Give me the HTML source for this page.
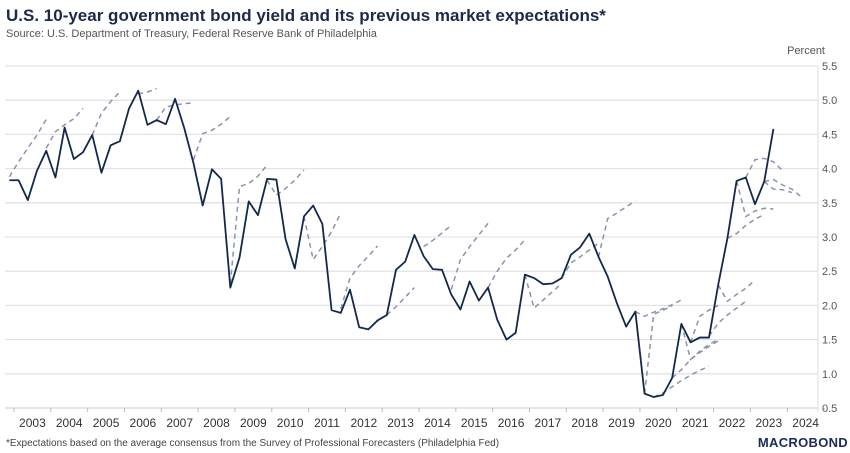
<!DOCTYPE html>
<html><head><meta charset="utf-8"><style>
body{margin:0;background:#fff;width:850px;height:453px;overflow:hidden;font-family:"Liberation Sans",sans-serif}
svg{display:block}
</style></head><body>
<svg id="chart" width="850" height="453">
<text x="6" y="21" font-size="17" font-weight="bold" fill="#1b2a4a">U.S. 10-year government bond yield and its previous market expectations*</text>
<text x="6" y="37" font-size="11" fill="#555">Source: U.S. Department of Treasury, Federal Reserve Bank of Philadelphia</text>
<text x="825" y="54" font-size="11" fill="#555" text-anchor="end">Percent</text>
<g id="grid"></g><g id="dashes"></g><g id="series"></g><g id="axes"></g>
<text x="6" y="446" font-size="10" fill="#444">*Expectations based on the average consensus from the Survey of Professional Forecasters (Philadelphia Fed)</text>
<text x="848" y="447" font-size="13" font-weight="bold" fill="#1b2a5a" text-anchor="end" letter-spacing="0.3">MACROBOND</text>
</svg>
<script>
const yTicks=[0.5,1.0,1.5,2.0,2.5,3.0,3.5,4.0,4.5,5.0,5.5];
const years=[2003,2004,2005,2006,2007,2008,2009,2010,2011,2012,2013,2014,2015,2016,2017,2018,2019,2020,2021,2022,2023,2024];
const startQuarter=2002.875;
const yieldValues=[3.83,3.83,3.54,3.97,4.26,3.87,4.60,4.14,4.24,4.49,3.94,4.34,4.40,4.88,5.14,4.64,4.71,4.65,5.02,4.59,4.08,3.46,3.99,3.85,2.26,2.70,3.52,3.32,3.85,3.84,2.97,2.54,3.30,3.46,3.19,1.93,1.89,2.23,1.68,1.65,1.78,1.86,2.52,2.64,3.03,2.72,2.53,2.52,2.16,1.94,2.35,2.07,2.26,1.79,1.50,1.60,2.45,2.40,2.31,2.32,2.40,2.74,2.85,3.05,2.71,2.42,2.03,1.69,1.91,0.71,0.66,0.69,0.94,1.73,1.46,1.53,1.53,2.30,2.98,3.82,3.87,3.48,3.81,4.58];
const forecastStarts=[0,4,9,14,16,20,24,28,32,36,41,45,48,52,56,60,64,68,69,70,72,73,74,76,77,78,79,80,82,82];
const forecastValues=[
[3.88,4.10,4.30,4.49,4.72],[4.30,4.54,4.64,4.73,4.88],[4.49,4.81,4.98,5.12],[5.09,5.12,5.17],
[4.71,4.90,4.93,4.95,4.96],[4.13,4.51,4.56,4.65,4.76],[2.32,3.74,3.78,3.89,4.05],[3.83,3.61,3.71,3.83,3.98],
[3.30,2.67,2.86,3.08,3.35],[1.95,2.40,2.58,2.72,2.87],[1.86,1.98,2.12,2.26],[2.86,2.95,3.06,3.17],
[2.23,2.67,2.86,3.03,3.20],[2.26,2.50,2.69,2.81,2.96],[2.45,1.96,2.08,2.20,2.32],[2.40,2.62,2.71,2.81,2.91],
[2.71,3.27,3.35,3.44,3.53],[1.91,1.84,1.90,1.95,2.01,2.08],[0.71,1.87,1.93,1.99],[0.66,0.72,0.81,0.90,0.98,1.05,1.11],
[0.94,1.06,1.21,1.31,1.40,1.48],[1.73,1.21,1.33,1.43,1.50],[1.46,1.84,1.93,2.00],[1.55,1.74,1.86,1.96,2.06],
[2.30,2.06,2.16,2.25,2.37],[2.98,3.05,3.17,3.26,3.33],[3.82,3.30,3.38,3.42,3.41],[3.87,4.13,4.15,4.10,3.97],
[3.81,3.84,3.76,3.70,3.59],[3.81,3.70,3.69,3.65]];
const NS='http://www.w3.org/2000/svg';
const X0=14,YW=36.82,Y0=408,YS=68.4;
function xT(t){return X0+(t-2003)*YW;}
function xI(i){return xT(startQuarter+i*0.25);}
function yV(v){return Y0-(v-0.5)*YS;}
function mk(tag,attrs,parent){const e=document.createElementNS(NS,tag);for(const k in attrs)e.setAttribute(k,attrs[k]);parent.appendChild(e);return e;}
const grid=document.getElementById('grid'),axes=document.getElementById('axes'),dashes=document.getElementById('dashes'),series=document.getElementById('series');
yTicks.forEach(v=>{
 if(v>0.5){const l=mk('line',{x1:5,x2:818,y1:yV(v),y2:yV(v),stroke:'#e3e3e3','stroke-width':1.3},grid);
 
 }
 const t=mk('text',{x:822,y:yV(v)+4,'font-size':11,fill:'#555'},axes);
 t.textContent=v.toFixed(1);
 
 
});
const ax=mk('line',{x1:5,x2:818,y1:Y0,y2:Y0,stroke:'#ccc','stroke-width':1},axes);


const ra=mk('line',{x1:818,x2:818,y1:66,y2:Y0+4,stroke:'#ddd','stroke-width':1},axes);


years.concat([2025]).forEach(yr=>{
 const tk=mk('line',{x1:xT(yr),x2:xT(yr),y1:Y0,y2:Y0+4,stroke:'#bbb'},axes);
 
 
});
years.forEach(yr=>{
 const t=mk('text',{x:xT(yr+0.5),y:427,'font-size':12,fill:'#333','text-anchor':'middle'},axes);
 t.textContent=yr;
 
 
});
forecastValues.forEach((vals,k)=>{
 const s=forecastStarts[k];
 const p=mk('polyline',{points:vals.map((v,j)=>xI(s+j)+','+yV(v)).join(' '),fill:'none',stroke:'#8a93ad','stroke-width':1.5,'stroke-dasharray':'5,4'},dashes);
 
 
});
const sl=mk('polyline',{points:yieldValues.map((v,i)=>xI(i)+','+yV(v)).join(' '),fill:'none',stroke:'#13294b','stroke-width':1.8,'stroke-linejoin':'round'},series);


</script>
</body></html>
